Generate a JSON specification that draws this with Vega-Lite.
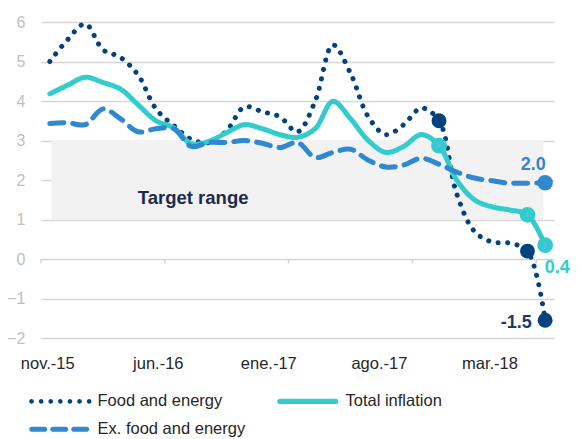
{
  "$schema": "https://vega.github.io/schema/vega-lite/v6.json",
  "width": 513,
  "height": 316,
  "autosize": {"type": "none"},
  "padding": {"left": 41, "top": 22, "right": 27, "bottom": 101},
  "config": {
    "view": {"stroke": null},
    "font": "Liberation Sans",
    "axisY": {"grid": true, "gridColor": "#d6d6d6", "gridWidth": 1.6, "ticks": false, "domain": false,
      "labelFontSize": 16, "labelColor": "#bfbfbf", "labelPadding": 16, "labelOverlap": false, "title": null},
    "axisX": {"grid": false, "ticks": false, "domain": false, "labelFontSize": 16.5, "labelColor": "#262626",
      "labelPadding": 17, "labelFlush": false, "labelOverlap": false, "title": null},
    "legend": {"padding": 0}
  },
  "datasets": {
    "infl": [
      {"t":0,"month":"nov-15","series":"Food and energy","value":5.0},
      {"t":1,"month":"dic-15","series":"Food and energy","value":5.55},
      {"t":2,"month":"ene-16","series":"Food and energy","value":5.95},
      {"t":3,"month":"feb-16","series":"Food and energy","value":5.3},
      {"t":4,"month":"mar-16","series":"Food and energy","value":5.1},
      {"t":5,"month":"abr-16","series":"Food and energy","value":4.65},
      {"t":6,"month":"may-16","series":"Food and energy","value":3.8},
      {"t":7,"month":"jun-16","series":"Food and energy","value":3.38},
      {"t":8,"month":"jul-16","series":"Food and energy","value":3.03},
      {"t":9,"month":"ago-16","series":"Food and energy","value":2.95},
      {"t":10,"month":"sep-16","series":"Food and energy","value":3.25},
      {"t":11,"month":"oct-16","series":"Food and energy","value":3.85},
      {"t":12,"month":"nov-16","series":"Food and energy","value":3.73},
      {"t":13,"month":"dic-16","series":"Food and energy","value":3.6},
      {"t":14,"month":"ene-17","series":"Food and energy","value":3.22},
      {"t":15,"month":"feb-17","series":"Food and energy","value":4.0},
      {"t":16,"month":"mar-17","series":"Food and energy","value":5.42},
      {"t":17,"month":"abr-17","series":"Food and energy","value":4.7},
      {"t":18,"month":"may-17","series":"Food and energy","value":3.6},
      {"t":19,"month":"jun-17","series":"Food and energy","value":3.15},
      {"t":20,"month":"jul-17","series":"Food and energy","value":3.4},
      {"t":21,"month":"ago-17","series":"Food and energy","value":3.82},
      {"t":22,"month":"sep-17","series":"Food and energy","value":3.5},
      {"t":23,"month":"oct-17","series":"Food and energy","value":1.65},
      {"t":24,"month":"nov-17","series":"Food and energy","value":0.7},
      {"t":25,"month":"dic-17","series":"Food and energy","value":0.43},
      {"t":26,"month":"ene-18","series":"Food and energy","value":0.4},
      {"t":27,"month":"feb-18","series":"Food and energy","value":0.2},
      {"t":28,"month":"mar-18","series":"Food and energy","value":-1.55},
      {"t":0,"month":"nov-15","series":"Total inflation","value":4.18},
      {"t":1,"month":"dic-15","series":"Total inflation","value":4.4},
      {"t":2,"month":"ene-16","series":"Total inflation","value":4.6},
      {"t":3,"month":"feb-16","series":"Total inflation","value":4.47},
      {"t":4,"month":"mar-16","series":"Total inflation","value":4.3},
      {"t":5,"month":"abr-16","series":"Total inflation","value":3.9},
      {"t":6,"month":"may-16","series":"Total inflation","value":3.5},
      {"t":7,"month":"jun-16","series":"Total inflation","value":3.32},
      {"t":8,"month":"jul-16","series":"Total inflation","value":2.92},
      {"t":9,"month":"ago-16","series":"Total inflation","value":2.98},
      {"t":10,"month":"sep-16","series":"Total inflation","value":3.2},
      {"t":11,"month":"oct-16","series":"Total inflation","value":3.4},
      {"t":12,"month":"nov-16","series":"Total inflation","value":3.3},
      {"t":13,"month":"dic-16","series":"Total inflation","value":3.15},
      {"t":14,"month":"ene-17","series":"Total inflation","value":3.08},
      {"t":15,"month":"feb-17","series":"Total inflation","value":3.3},
      {"t":16,"month":"mar-17","series":"Total inflation","value":3.99},
      {"t":17,"month":"abr-17","series":"Total inflation","value":3.55},
      {"t":18,"month":"may-17","series":"Total inflation","value":3.0},
      {"t":19,"month":"jun-17","series":"Total inflation","value":2.7},
      {"t":20,"month":"jul-17","series":"Total inflation","value":2.85},
      {"t":21,"month":"ago-17","series":"Total inflation","value":3.15},
      {"t":22,"month":"sep-17","series":"Total inflation","value":2.87},
      {"t":23,"month":"oct-17","series":"Total inflation","value":2.0},
      {"t":24,"month":"nov-17","series":"Total inflation","value":1.5},
      {"t":25,"month":"dic-17","series":"Total inflation","value":1.32},
      {"t":26,"month":"ene-18","series":"Total inflation","value":1.24},
      {"t":27,"month":"feb-18","series":"Total inflation","value":1.12},
      {"t":28,"month":"mar-18","series":"Total inflation","value":0.35},
      {"t":0,"month":"nov-15","series":"Ex. food and energy","value":3.43},
      {"t":1,"month":"dic-15","series":"Ex. food and energy","value":3.45},
      {"t":2,"month":"ene-16","series":"Ex. food and energy","value":3.4},
      {"t":3,"month":"feb-16","series":"Ex. food and energy","value":3.8},
      {"t":4,"month":"mar-16","series":"Ex. food and energy","value":3.55},
      {"t":5,"month":"abr-16","series":"Ex. food and energy","value":3.22},
      {"t":6,"month":"may-16","series":"Ex. food and energy","value":3.3},
      {"t":7,"month":"jun-16","series":"Ex. food and energy","value":3.3},
      {"t":8,"month":"jul-16","series":"Ex. food and energy","value":2.85},
      {"t":9,"month":"ago-16","series":"Ex. food and energy","value":2.95},
      {"t":10,"month":"sep-16","series":"Ex. food and energy","value":2.95},
      {"t":11,"month":"oct-16","series":"Ex. food and energy","value":3.0},
      {"t":12,"month":"nov-16","series":"Ex. food and energy","value":2.93},
      {"t":13,"month":"dic-16","series":"Ex. food and energy","value":2.82},
      {"t":14,"month":"ene-17","series":"Ex. food and energy","value":2.95},
      {"t":15,"month":"feb-17","series":"Ex. food and energy","value":2.57},
      {"t":16,"month":"mar-17","series":"Ex. food and energy","value":2.7},
      {"t":17,"month":"abr-17","series":"Ex. food and energy","value":2.78},
      {"t":18,"month":"may-17","series":"Ex. food and energy","value":2.5},
      {"t":19,"month":"jun-17","series":"Ex. food and energy","value":2.33},
      {"t":20,"month":"jul-17","series":"Ex. food and energy","value":2.38},
      {"t":21,"month":"ago-17","series":"Ex. food and energy","value":2.55},
      {"t":22,"month":"sep-17","series":"Ex. food and energy","value":2.4},
      {"t":23,"month":"oct-17","series":"Ex. food and energy","value":2.2},
      {"t":24,"month":"nov-17","series":"Ex. food and energy","value":2.05},
      {"t":25,"month":"dic-17","series":"Ex. food and energy","value":1.98},
      {"t":26,"month":"ene-18","series":"Ex. food and energy","value":1.92},
      {"t":27,"month":"feb-18","series":"Ex. food and energy","value":1.92},
      {"t":28,"month":"mar-18","series":"Ex. food and energy","value":1.93}
    ],
    "ticks": [{"t":-0.5},{"t":6.5},{"t":13.5},{"t":20.5},{"t":27.5}],
    "band": [{"start":0.1,"end":27.9,"low":1,"high":3}]
  },
  "layer": [
    {
      "data": {"name": "band"},
      "mark": {"type": "rect", "color": "#f2f2f2"},
      "encoding": {
        "x": {"field": "start", "type": "quantitative",
          "scale": {"domain": [-0.5, 28.5], "nice": false, "zero": false},
          "axis": {"title": null, "values": [-0.15, 6.1, 12.35, 18.6, 24.85],
            "labelExpr": "datum.value < 3 ? 'nov.-15' : datum.value < 9 ? 'jun.-16' : datum.value < 15 ? 'ene.-17' : datum.value < 21 ? 'ago.-17' : 'mar.-18'"}},
        "x2": {"field": "end"},
        "y": {"field": "low", "type": "quantitative",
          "scale": {"domain": [-2, 6], "nice": false, "zero": false},
          "axis": {"title": null, "values": [-2, -1, 0, 1, 2, 3, 4, 5, 6], "tickCount": 9, "labelOverlap": false}},
        "y2": {"field": "high"}
      }
    },
    {
      "data": {"name": "ticks"},
      "mark": {"type": "rule", "color": "#d6d6d6", "strokeWidth": 1.6},
      "encoding": {
        "x": {"field": "t", "type": "quantitative", "title": null},
        "y": {"datum": 0, "type": "quantitative"},
        "y2": {"datum": -0.11}
      }
    },
    {
      "data": {"name": "infl"},
      "transform": [{"filter": {"field": "t", "equal": 0}}],
      "mark": {"type": "point", "filled": true, "size": 0, "opacity": 1},
      "encoding": {
        "x": {"field": "t", "type": "quantitative", "title": null},
        "y": {"field": "value", "type": "quantitative", "title": null},
        "fill": {"field": "series", "type": "nominal",
          "scale": {"domain": ["Food and energy", "Total inflation", "Ex. food and energy"],
                    "range": ["#00427f", "#33cccc", "#3088d0"]},
          "legend": {"title": null, "orient": "none", "legendX": -20, "legendY": 371, "direction": "horizontal",
            "columns": 2, "columnPadding": 23, "rowPadding": 11, "symbolSize": 4, "symbolOpacity": 1,
            "symbolStrokeWidth": 0, "labelFontSize": 16.5, "labelColor": "#262626", "labelOffset": 60}},
        "shape": {"field": "series", "type": "nominal",
          "scale": {"domain": ["Food and energy", "Total inflation", "Ex. food and energy"],
                    "range": [
                      "M0,0a2.3,2.3 0 1,0 4.6,0a2.3,2.3 0 1,0 -4.6,0M9.6,0a2.3,2.3 0 1,0 4.6,0a2.3,2.3 0 1,0 -4.6,0M19.2,0a2.3,2.3 0 1,0 4.6,0a2.3,2.3 0 1,0 -4.6,0M28.8,0a2.3,2.3 0 1,0 4.6,0a2.3,2.3 0 1,0 -4.6,0M38.4,0a2.3,2.3 0 1,0 4.6,0a2.3,2.3 0 1,0 -4.6,0M48,0a2.3,2.3 0 1,0 4.6,0a2.3,2.3 0 1,0 -4.6,0M57.6,0a2.3,2.3 0 1,0 4.6,0a2.3,2.3 0 1,0 -4.6,0",
                      "M2.7,-2.7H58.3A2.7,2.7 0 0,1 58.3,2.7H2.7A2.7,2.7 0 0,1 2.7,-2.7Z",
                      "M2.6,-2.6H15.4A2.6,2.6 0 0,1 15.4,2.6H2.6A2.6,2.6 0 0,1 2.6,-2.6ZM23.6,-2.6H36.4A2.6,2.6 0 0,1 36.4,2.6H23.6A2.6,2.6 0 0,1 23.6,-2.6ZM44.6,-2.6H57.4A2.6,2.6 0 0,1 57.4,2.6H44.6A2.6,2.6 0 0,1 44.6,-2.6Z"
                    ]},
          "legend": {"title": null, "orient": "none", "legendX": -20, "legendY": 371, "direction": "horizontal",
            "columns": 2, "columnPadding": 23, "rowPadding": 11, "symbolSize": 4, "symbolOpacity": 1,
            "symbolStrokeWidth": 0, "labelFontSize": 16.5, "labelColor": "#262626", "labelOffset": 60}}
      }
    },
    {
      "data": {"name": "infl"},
      "mark": {"type": "line", "interpolate": "catmull-rom", "strokeCap": "round", "strokeJoin": "round", "strokeWidth": 5},
      "encoding": {
        "x": {"field": "t", "type": "quantitative", "title": null},
        "y": {"field": "value", "type": "quantitative", "title": null},
        "color": {"field": "series", "type": "nominal", "legend": null,
          "scale": {"domain": ["Food and energy", "Total inflation", "Ex. food and energy"],
                    "range": ["#00427f", "#33cccc", "#3088d0"]}},
        "strokeDash": {"field": "series", "type": "nominal", "legend": null,
          "scale": {"domain": ["Food and energy", "Total inflation", "Ex. food and energy"],
                    "range": [[0.1, 9.5], [1, 0], [14, 9]]}}
      }
    },
    {
      "data": {"name": "band"},
      "mark": {"type": "text", "text": "Target range", "fontSize": 18.5, "fontWeight": "bold", "color": "#1a2b4c"},
      "encoding": {
        "x": {"datum": 8.1, "type": "quantitative"},
        "y": {"datum": 1.55, "type": "quantitative"}
      }
    },
    {
      "data": {"name": "infl"},
      "transform": [{"filter": {"and": [{"field": "series", "equal": "Food and energy"}, {"field": "t", "oneOf": [22, 27, 28]}]}}],
      "mark": {"type": "point", "filled": true, "size": 220, "color": "#00427f", "opacity": 1},
      "encoding": {
        "x": {"field": "t", "type": "quantitative", "title": null},
        "y": {"field": "value", "type": "quantitative", "title": null}
      }
    },
    {
      "data": {"name": "infl"},
      "transform": [{"filter": {"and": [{"field": "series", "equal": "Ex. food and energy"}, {"field": "t", "equal": 28}]}}],
      "mark": {"type": "point", "filled": true, "size": 240, "color": "#3088d0", "opacity": 1},
      "encoding": {
        "x": {"field": "t", "type": "quantitative", "title": null},
        "y": {"field": "value", "type": "quantitative", "title": null}
      }
    },
    {
      "data": {"name": "infl"},
      "transform": [{"filter": {"and": [{"field": "series", "equal": "Total inflation"}, {"field": "t", "oneOf": [22, 27, 28]}]}}],
      "mark": {"type": "point", "filled": false, "size": 95, "fill": "#66b5f5", "stroke": "#33cccc", "strokeWidth": 6, "opacity": 1, "fillOpacity": 1},
      "encoding": {
        "x": {"field": "t", "type": "quantitative", "title": null},
        "y": {"field": "value", "type": "quantitative", "title": null}
      }
    },
    {
      "data": {"name": "infl"},
      "transform": [{"filter": {"and": [{"field": "series", "equal": "Ex. food and energy"}, {"field": "t", "equal": 28}]}}],
      "mark": {"type": "text", "text": "2.0", "fontSize": 18, "fontWeight": "bold", "color": "#3088d0", "dx": -12, "dy": -18},
      "encoding": {
        "x": {"field": "t", "type": "quantitative", "title": null},
        "y": {"field": "value", "type": "quantitative", "title": null}
      }
    },
    {
      "data": {"name": "infl"},
      "transform": [{"filter": {"and": [{"field": "series", "equal": "Total inflation"}, {"field": "t", "equal": 28}]}}],
      "mark": {"type": "text", "text": "0.4", "fontSize": 18, "fontWeight": "bold", "color": "#33cccc", "dx": 12, "dy": 23},
      "encoding": {
        "x": {"field": "t", "type": "quantitative", "title": null},
        "y": {"field": "value", "type": "quantitative", "title": null}
      }
    },
    {
      "data": {"name": "infl"},
      "transform": [{"filter": {"and": [{"field": "series", "equal": "Food and energy"}, {"field": "t", "equal": 28}]}}],
      "mark": {"type": "text", "text": "-1.5", "fontSize": 18, "fontWeight": "bold", "color": "#1a3a6b", "dx": -29, "dy": 3},
      "encoding": {
        "x": {"field": "t", "type": "quantitative", "title": null},
        "y": {"field": "value", "type": "quantitative", "title": null}
      }
    }
  ]
}
